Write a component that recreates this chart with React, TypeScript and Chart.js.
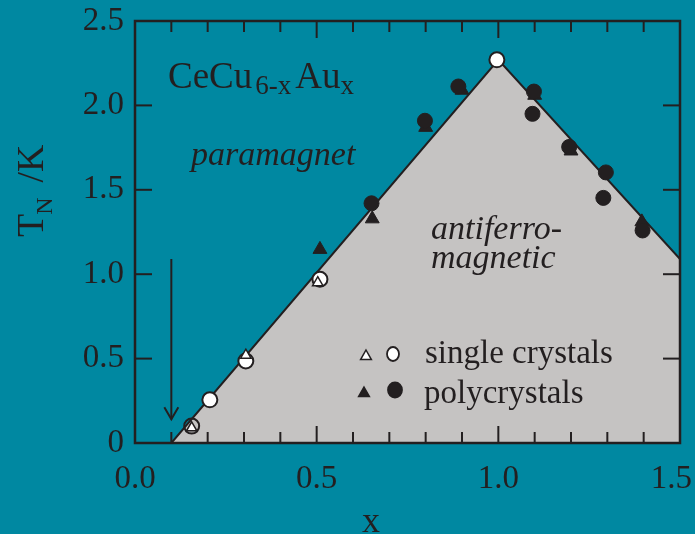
import React, { useEffect, useRef } from "react";
import { Chart, registerables } from "chart.js";

Chart.register(...registerables);

// ---- data ----
const boundaryX = [0.1, 1.0, 1.5];
const boundaryY = [0, 2.27, 1.09];

const singleCircleX = [0.156, 0.206, 0.305, 0.509, 0.996];
const singleCircleY = [0.1, 0.256, 0.486, 0.97, 2.27];
const singleTriangleX = [0.156, 0.305, 0.503];
const singleTriangleY = [0.09, 0.52, 0.95];

const polyCircleX = [0.651, 0.798, 0.89, 1.098, 1.094, 1.195, 1.296, 1.289, 1.397];
const polyCircleY = [1.42, 1.909, 2.112, 2.082, 1.95, 1.754, 1.603, 1.452, 1.259];
const polyTriangleX = [0.509, 0.653, 0.8, 0.9, 1.1, 1.2, 1.395];
const polyTriangleY = [1.147, 1.328, 1.87, 2.09, 2.06, 1.73, 1.31];

const xTickValues = [0, 0.5, 1.0, 1.5];
const xTickLabels = ["0.0", "0.5", "1.0", "1.5"];
const yTickValues = [0, 0.5, 1.0, 1.5, 2.0, 2.5];
const yTickLabels = ["0", "0.5", "1.0", "1.5", "2.0", "2.5"];

const arrowX = 0.1;
const arrowFromY = 1.09;
const arrowToY = 0.14;

const FONT = "'Liberation Serif', 'Times New Roman', Times, serif";
const INK = "#231f20";
const TEAL = "#0088a1";
const GRAY = "#c5c3c2";

const pts = (xs: number[], ys: number[]) => xs.map((x, i) => ({ x, y: ys[i] }));

export default function App() {
  const ref = useRef<HTMLCanvasElement>(null);

  useEffect(() => {
    const canvas = ref.current!;

    const decor = {
      id: "decor",
      afterDatasetsDraw(chart: any) {
        const { ctx, chartArea: a, scales } = chart;
        const xs = scales.x;
        const ys = scales.y;
        ctx.save();
        ctx.strokeStyle = INK;
        ctx.fillStyle = INK;
        ctx.lineCap = "butt";

        const line = (x1: number, y1: number, x2: number, y2: number) => {
          ctx.beginPath();
          ctx.moveTo(x1, y1);
          ctx.lineTo(x2, y2);
          ctx.stroke();
        };

        // arrow
        ctx.lineWidth = 2;
        const ax = xs.getPixelForValue(arrowX);
        const ay1 = ys.getPixelForValue(arrowFromY);
        const ay2 = ys.getPixelForValue(arrowToY);
        line(ax, ay1, ax, ay2);
        ctx.beginPath();
        ctx.moveTo(ax - 7, ay2 - 12);
        ctx.lineTo(ax, ay2);
        ctx.lineTo(ax + 7, ay2 - 12);
        ctx.stroke();

        // frame
        ctx.lineWidth = 2.5;
        ctx.strokeRect(a.left, a.top, a.right - a.left, a.bottom - a.top);

        // x ticks (inward, top and bottom)
        ctx.lineWidth = 2;
        for (let i = 1; i < 15; i++) {
          const px = xs.getPixelForValue(i / 10);
          const len = i % 5 === 0 ? 17 : 11;
          line(px, a.bottom, px, a.bottom - len);
          line(px, a.top, px, a.top + len);
        }
        // y ticks (inward, left and right)
        for (let i = 1; i < 5; i++) {
          const py = ys.getPixelForValue(i * 0.5);
          line(a.left, py, a.left + 17, py);
          line(a.right, py, a.right - 17, py);
        }

        // x tick labels
        ctx.font = `33px ${FONT}`;
        ctx.textBaseline = "alphabetic";
        ctx.textAlign = "left";
        xTickValues.forEach((v, i) => {
          const w = ctx.measureText(xTickLabels[i]).width;
          let left = xs.getPixelForValue(v) - w / 2;
          if (left + w > chart.width - 3) left = chart.width - 3 - w;
          ctx.fillText(xTickLabels[i], left, a.bottom + 45);
        });

        // x axis title
        ctx.font = `36px ${FONT}`;
        ctx.textAlign = "center";
        ctx.fillText("x", 371, a.bottom + 89);

        // y axis title (rotated)
        ctx.save();
        ctx.translate(43, 237);
        ctx.rotate(-Math.PI / 2);
        ctx.textAlign = "left";
        ctx.font = `38px ${FONT}`;
        ctx.fillText("T", 0, 0);
        let cx = ctx.measureText("T").width;
        ctx.font = `24px ${FONT}`;
        ctx.fillText("N", cx - 1, 9);
        cx += ctx.measureText("N").width + 14;
        ctx.font = `38px ${FONT}`;
        ctx.fillText("/K", cx, 0);
        ctx.restore();

        // compound label
        ctx.textAlign = "left";
        let tx = 168;
        ctx.font = `37px ${FONT}`;
        ctx.fillText("CeCu", tx, 88);
        tx += ctx.measureText("CeCu").width + 3;
        ctx.font = `27px ${FONT}`;
        ctx.fillText("6-x", tx, 94);
        tx += ctx.measureText("6-x").width + 4;
        ctx.font = `37px ${FONT}`;
        ctx.fillText("Au", tx, 88);
        tx += ctx.measureText("Au").width;
        ctx.font = `27px ${FONT}`;
        ctx.fillText("x", tx, 94);

        // phase labels
        ctx.font = `italic 34px ${FONT}`;
        ctx.fillText("paramagnet", 191, 165);
        ctx.fillText("antiferro-", 431, 239);
        ctx.fillText("magnetic", 431, 268);

        // legend
        const tri = (x: number, y: number, r: number, fill: string) => {
          ctx.beginPath();
          ctx.moveTo(x, y - r);
          ctx.lineTo(x + r * 0.9, y + r * 0.6);
          ctx.lineTo(x - r * 0.9, y + r * 0.6);
          ctx.closePath();
          ctx.fillStyle = fill;
          ctx.fill();
          ctx.lineWidth = 1.5;
          ctx.strokeStyle = INK;
          ctx.stroke();
        };
        const circ = (x: number, y: number, rx: number, ry: number, fill: string) => {
          ctx.beginPath();
          ctx.ellipse(x, y, rx, ry, 0, 0, Math.PI * 2);
          ctx.fillStyle = fill;
          ctx.fill();
          ctx.lineWidth = 1.8;
          ctx.strokeStyle = INK;
          ctx.stroke();
        };
        tri(366, 356, 6, "#ffffff");
        circ(393, 354, 6, 7, "#ffffff");
        tri(364, 393, 6, INK);
        circ(395, 390, 7, 7.5, INK);
        ctx.fillStyle = INK;
        ctx.font = `33px ${FONT}`;
        ctx.fillText("single crystals", 425, 363);
        ctx.fillText("polycrystals", 424, 403);

        ctx.restore();
      },
    };

    const chart = new Chart(canvas, {
      type: "scatter",
      data: {
        datasets: [
          {
            label: "boundary",
            data: pts(boundaryX, boundaryY),
            showLine: true,
            fill: "origin",
            backgroundColor: GRAY,
            borderColor: INK,
            borderWidth: 2,
            pointRadius: 0,
            order: 10,
          },
          {
            label: "polycrystals (triangle)",
            data: pts(polyTriangleX, polyTriangleY),
            pointStyle: "triangle",
            pointRadius: 8,
            backgroundColor: INK,
            borderColor: INK,
            borderWidth: 1,
            order: 4,
          },
          {
            label: "polycrystals (circle)",
            data: pts(polyCircleX, polyCircleY),
            pointStyle: "circle",
            pointRadius: 7.5,
            backgroundColor: INK,
            borderColor: INK,
            borderWidth: 1,
            order: 3,
          },
          {
            label: "single crystals (triangle)",
            data: pts(singleTriangleX, singleTriangleY),
            pointStyle: "triangle",
            pointRadius: 6,
            backgroundColor: "#ffffff",
            borderColor: INK,
            borderWidth: 1.5,
            order: 1,
          },
          {
            label: "single crystals (circle)",
            data: pts(singleCircleX, singleCircleY),
            pointStyle: "circle",
            pointRadius: 7.5,
            backgroundColor: singleCircleX.map((_, i) => (i === 0 ? "rgba(0,0,0,0)" : "#ffffff")),
            borderColor: INK,
            borderWidth: 2,
            order: 2,
          },
        ],
      },
      options: {
        responsive: false,
        animation: false,
        events: [],
        layout: { padding: { left: 0, top: 21, right: 15, bottom: 91 } },
        plugins: {
          legend: { display: false },
          tooltip: { enabled: false },
        },
        scales: {
          x: {
            type: "linear",
            min: 0,
            max: 1.5,
            display: false,
          },
          y: {
            type: "linear",
            min: 0,
            max: 2.5,
            afterBuildTicks: (scale: any) => {
              scale.ticks = yTickValues.map((v) => ({ value: v }));
            },
            afterFit: (scale: any) => {
              scale.width = 135;
              scale.paddingTop = 0;
              scale.paddingBottom = 0;
            },
            grid: { display: false, drawTicks: false },
            border: { display: false },
            ticks: {
              padding: 11,
              color: INK,
              font: { family: FONT, size: 33 },
              callback: (v: any) => {
                const i = yTickValues.indexOf(Number(v));
                return i >= 0 ? yTickLabels[i] : "";
              },
            },
          },
        },
      },
      plugins: [decor],
    } as any);

    return () => chart.destroy();
  }, []);

  return (
    <div
      style={{
        position: "fixed",
        left: 0,
        top: 0,
        width: 695,
        height: 534,
        background: TEAL,
        overflow: "hidden",
      }}
    >
      <canvas ref={ref} width={695} height={534} style={{ display: "block" }} />
    </div>
  );
}
